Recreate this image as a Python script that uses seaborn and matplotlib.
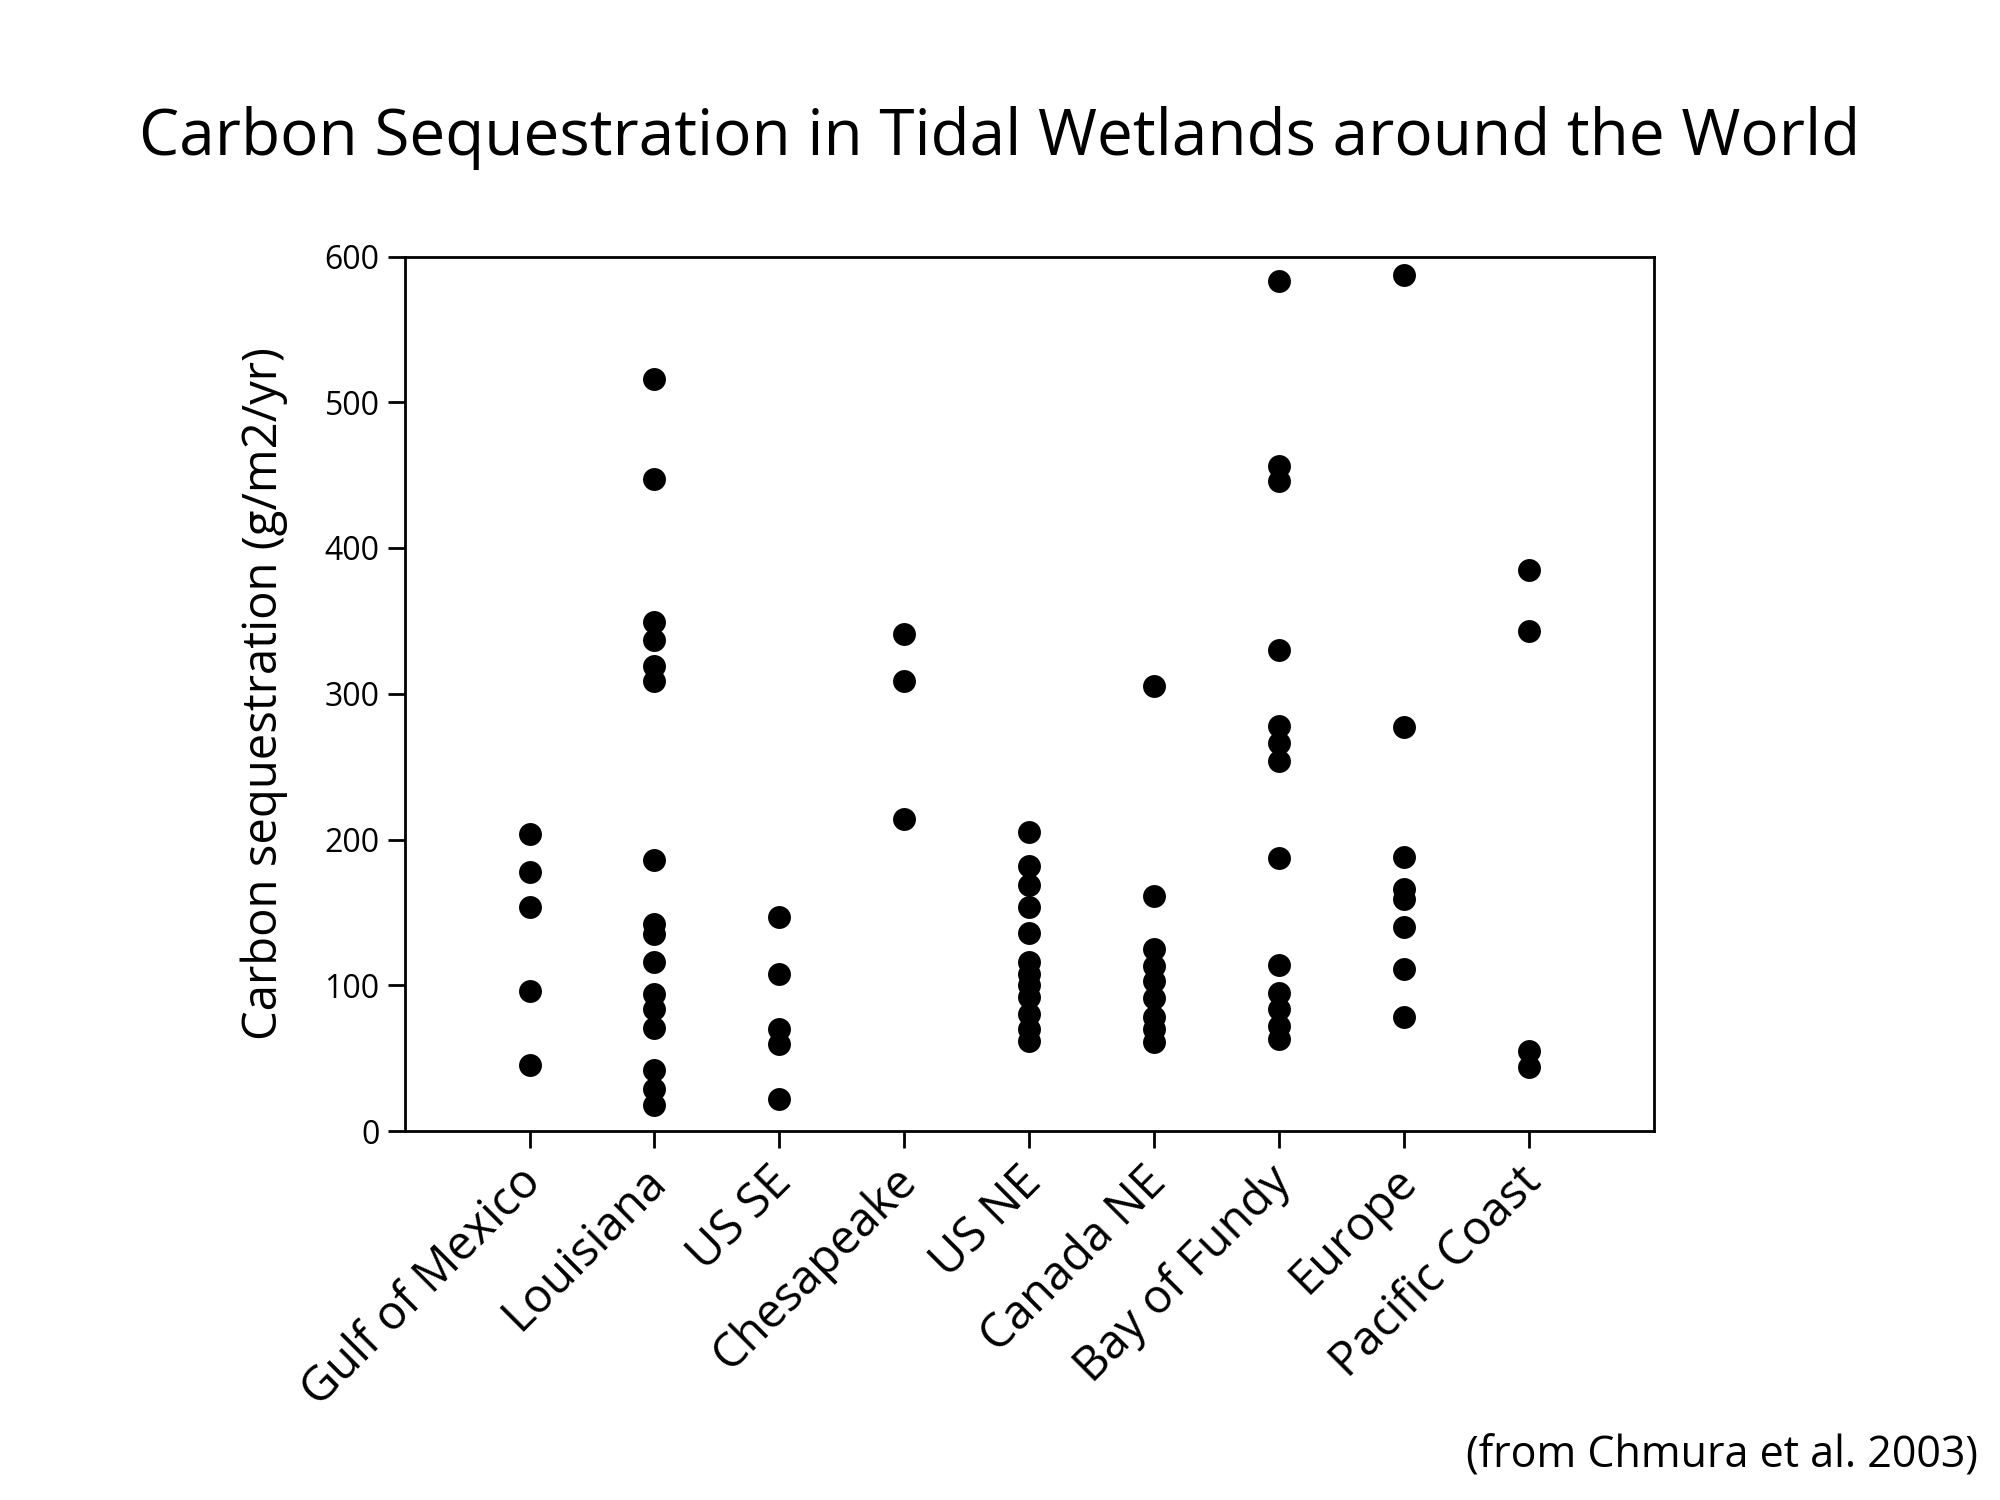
import matplotlib
matplotlib.use('Agg')
import matplotlib.pyplot as plt
import matplotlib.transforms as mtransforms
import seaborn as sns
from pandas import DataFrame


regions = ['Gulf of Mexico', 'Louisiana', 'US SE', 'Chesapeake', 'US NE',
           'Canada NE', 'Bay of Fundy', 'Europe', 'Pacific Coast']

gulf_of_mexico = [204, 178, 154, 96, 45]
louisiana = [516, 447, 349, 337, 319, 309, 186, 142, 135, 116, 94, 84, 71, 42, 29, 18]
us_se = [147, 108, 70, 60, 22]
chesapeake = [341, 309, 214]
us_ne = [205, 182, 169, 154, 136, 116, 108, 100, 92, 80, 70, 62]
canada_ne = [305, 161, 125, 113, 103, 91, 78, 70, 61]
bay_of_fundy = [583, 456, 446, 330, 278, 266, 254, 187, 114, 95, 84, 72, 63]
europe = [587, 277, 188, 166, 159, 140, 111, 78]
pacific_coast = [385, 343, 55, 44]

series = [gulf_of_mexico, louisiana, us_se, chesapeake, us_ne,
          canada_ne, bay_of_fundy, europe, pacific_coast]

rows = []
for region, values in zip(regions, series):
    for v in values:
        rows.append(dict(region=region, seq=v))
df = DataFrame(rows)

sns.set_style('ticks')
plt.rcParams['font.family'] = ['Open Sans', 'DejaVu Sans']
plt.rcParams['text.color'] = 'black'
plt.rcParams['axes.labelcolor'] = 'black'
plt.rcParams['xtick.color'] = 'black'
plt.rcParams['ytick.color'] = 'black'

fig = plt.figure(figsize=(20, 15), dpi=100)
ax = fig.add_axes([0.2023, 0.246, 0.6247, 0.583])

sns.stripplot(data=df, x='region', y='seq', order=regions, jitter=False,
              color='black', size=16.5, linewidth=0, ax=ax)

ax.set_xlim(-1, 9)
ax.set_ylim(0, 600)
ax.set_yticks(range(0, 601, 100))
ax.set_xlabel('')
ax.set_ylabel('Carbon sequestration (g/m2/yr)', fontsize=34, labelpad=26)

for side in ['left', 'right', 'top', 'bottom']:
    ax.spines[side].set_visible(True)
    ax.spines[side].set_color('black')
    ax.spines[side].set_linewidth(2.0)

ax.tick_params(axis='both', direction='out', length=12, width=2.0, color='black')
ax.tick_params(axis='y', labelsize=23, pad=6)
ax.tick_params(axis='x', labelsize=34, pad=6)

# nudge the rotated labels a bit left so they end under the tick
shift = mtransforms.ScaledTranslation(-12 / 100, -2 / 100, fig.dpi_scale_trans)
for lab in ax.get_xticklabels():
    lab.set_rotation(45)
    lab.set_ha('right')
    lab.set_rotation_mode('anchor')
    lab.set_transform(lab.get_transform() + shift)

fig.text(0.5, 0.908, 'Carbon Sequestration in Tidal Wetlands around the World',
         ha='center', va='center', fontsize=46)
fig.text(0.989, 0.029, '(from Chmura et al. 2003)', ha='right', va='center', fontsize=31)

fig.savefig('out.png', dpi=100)
plt.close(fig)
